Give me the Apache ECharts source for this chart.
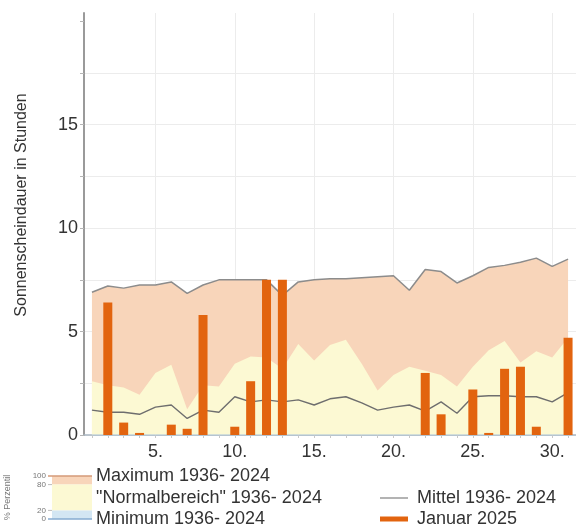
<!DOCTYPE html>
<html>
<head>
<meta charset="utf-8">
<script src="https://cdn.jsdelivr.net/npm/echarts@6/dist/echarts.min.js"></script>
<style>
html,body{margin:0;padding:0;background:#fff;}
#chart{width:576px;height:526px;}
</style>
</head>
<body>
<div id="chart"></div>
<script>
// Days of January
var days = ['1','2','3','4','5','6','7','8','9','10','11','12','13','14','15','16','17','18','19','20','21','22','23','24','25','26','27','28','29','30','31'];
// Maximum 1936-2024 (hours)
var maxVals = [6.9,7.2,7.1,7.25,7.25,7.4,6.85,7.25,7.5,7.5,7.5,7.5,6.75,7.4,7.5,7.55,7.55,7.6,7.65,7.7,7.0,8.0,7.9,7.35,7.7,8.1,8.2,8.35,8.55,8.15,8.5];
// 80th percentile (upper edge of "Normalbereich")
var p80Vals = [2.6,2.4,2.3,1.95,3.0,3.4,1.25,2.4,2.35,3.45,3.8,3.75,3.2,4.4,3.6,4.35,4.6,3.45,2.15,2.9,3.3,3.1,2.9,2.35,3.3,4.1,4.55,3.5,4.05,3.75,4.7];
// Mittel 1936-2024
var meanVals = [1.2,1.1,1.1,1.0,1.35,1.45,0.8,1.2,1.1,1.85,1.6,1.7,1.6,1.7,1.45,1.75,1.85,1.55,1.2,1.35,1.45,1.15,1.6,1.05,1.85,1.9,1.9,1.85,1.85,1.6,2.05];
// Minimum 1936-2024
var minVals = [0,0,0,0,0,0,0,0,0,0,0,0,0,0,0,0,0,0,0,0,0,0,0,0,0,0,0,0,0,0,0];
// Januar 2025
var jan2025 = [0,6.4,0.6,0.1,0,0.5,0.3,5.8,0,0.4,2.6,7.5,7.5,0,0,0,0,0,0,0,0,3.0,1.0,0,2.2,0.1,3.2,3.3,0.4,0,4.7];
// Y tick values shown
var yTicks = [0,5,10,15];
var yTickMarks = [0,2.5,5,7.5,10,12.5,15,17.5,20];
var xLabelDays = ['5','10','15','20','25','30'];

var FONT = 'Liberation Sans, Arial, sans-serif';
var chart = echarts.init(document.getElementById('chart'));

function legendText(x, y, t) {
  return {type:'text', x:x, y:y, style:{text:t, font:'18px ' + FONT, fill:'#333', verticalAlign:'middle', align:'left'}};
}
function tinyText(x, y, t) {
  return {type:'text', x:x, y:y, style:{text:t, font:'8px ' + FONT, fill:'#777', verticalAlign:'middle', align:'right'}};
}

var swTop = 476, swBot = 519, swL = 52, swR = 92;
var sh = swBot - swTop;

chart.setOption({
  animation: false,
  grid: {left: 84, right: 0, top: 13, bottom: 91, containLabel: false},
  xAxis: {
    type: 'category',
    data: days,
    boundaryGap: true,
    axisLine: {show: true, lineStyle: {color: '#a9b6c2', width: 1.5}},
    axisTick: {show: true, alignWithLabel: true, interval: 0, length: 3, lineStyle: {color: '#c8c8c8'}},
    axisLabel: {
      interval: function (idx, v) { return xLabelDays.indexOf(v) >= 0; },
      formatter: function (v) { return v + '.'; },
      fontFamily: FONT, fontSize: 18, color: '#333', margin: 8
    },
    splitLine: {
      show: true,
      alignWithLabel: true,
      interval: function (idx, v) { return xLabelDays.indexOf(v) >= 0; },
      lineStyle: {color: '#ececec', width: 1}
    }
  },
  yAxis: {
    type: 'value',
    min: 0, max: 20.4, interval: 5,
    axisLine: {show: true, lineStyle: {color: '#9a9a9a', width: 2}},
    axisTick: {show: true, length: 4, customValues: yTickMarks, lineStyle: {color: '#b5b5b5'}},
    axisLabel: {
      customValues: yTicks,
      formatter: function (v) { return yTicks.indexOf(v) >= 0 ? String(v) : ''; },
      fontFamily: FONT, fontSize: 18, color: '#333', margin: 6
    },
    splitLine: {show: true, showMaxLine: false, lineStyle: {color: '#ececec', width: 1}}
  },
  series: [
    {
      name: 'Maximum 1936- 2024', type: 'line', data: maxVals,
      symbol: 'none', z: 2,
      lineStyle: {color: '#8c8c8c', width: 1.5},
      areaStyle: {color: '#f8d5ba', opacity: 1}
    },
    {
      name: 'Normalbereich', type: 'line', data: p80Vals,
      symbol: 'none', z: 3,
      lineStyle: {width: 0, opacity: 0},
      areaStyle: {color: '#fcf9d3', opacity: 1}
    },
    {
      name: 'Minimum 1936- 2024', type: 'line', data: minVals,
      symbol: 'none', z: 4,
      lineStyle: {color: '#a9c3dc', width: 1}
    },
    {
      name: 'Mittel 1936- 2024', type: 'line', data: meanVals,
      symbol: 'none', z: 5,
      lineStyle: {color: '#6e6e6e', width: 1.4}
    },
    {
      name: 'Januar 2025', type: 'bar', data: jan2025,
      barWidth: 9, z: 6,
      itemStyle: {color: '#e2640f'}
    }
  ],
  graphic: [
    {type:'text', x:22, y:205, rotation: Math.PI/2,
     style:{text:'Sonnenscheindauer in Stunden', font:'16px ' + FONT, fill:'#333', align:'center', verticalAlign:'middle'}},
    // percentile swatch
    {type:'rect', shape:{x:swL, y:swTop, width:swR-swL, height:sh*0.2}, style:{fill:'#f8d5ba'}},
    {type:'rect', shape:{x:swL, y:swTop+sh*0.2, width:swR-swL, height:sh*0.6}, style:{fill:'#fcf9d3'}},
    {type:'rect', shape:{x:swL, y:swTop+sh*0.8, width:swR-swL, height:sh*0.2}, style:{fill:'#d3e6f3'}},
    {type:'line', shape:{x1:swL-4, y1:swTop, x2:swR, y2:swTop}, style:{stroke:'#d49a78', lineWidth:1.5}},
    {type:'line', shape:{x1:swL-4, y1:swBot, x2:swR, y2:swBot}, style:{stroke:'#86abd0', lineWidth:1.5}},
    {type:'line', shape:{x1:swL-4, y1:swTop+sh*0.2, x2:swL, y2:swTop+sh*0.2}, style:{stroke:'#bbb', lineWidth:1}},
    {type:'line', shape:{x1:swL-4, y1:swTop+sh*0.8, x2:swL, y2:swTop+sh*0.8}, style:{stroke:'#bbb', lineWidth:1}},
    tinyText(46, swTop, '100'),
    tinyText(46, swTop+sh*0.2, '80'),
    tinyText(46, swTop+sh*0.8, '20'),
    tinyText(46, swBot, '0'),
    {type:'text', x:8, y:swTop+sh*0.5, rotation: Math.PI/2,
     style:{text:'% Perzentil', font:'9px ' + FONT, fill:'#777', align:'center', verticalAlign:'middle'}},
    legendText(96, swTop, 'Maximum 1936- 2024'),
    legendText(96, 498, '"Normalbereich" 1936- 2024'),
    legendText(96, swBot, 'Minimum 1936- 2024'),
    {type:'line', shape:{x1:380, y1:498, x2:408, y2:498}, style:{stroke:'#9a9a9a', lineWidth:1.5}},
    legendText(417, 498, 'Mittel 1936- 2024'),
    {type:'line', shape:{x1:380, y1:519, x2:408, y2:519}, style:{stroke:'#e2640f', lineWidth:5}},
    legendText(417, 519, 'Januar 2025')
  ]
});
</script>
</body>
</html>
